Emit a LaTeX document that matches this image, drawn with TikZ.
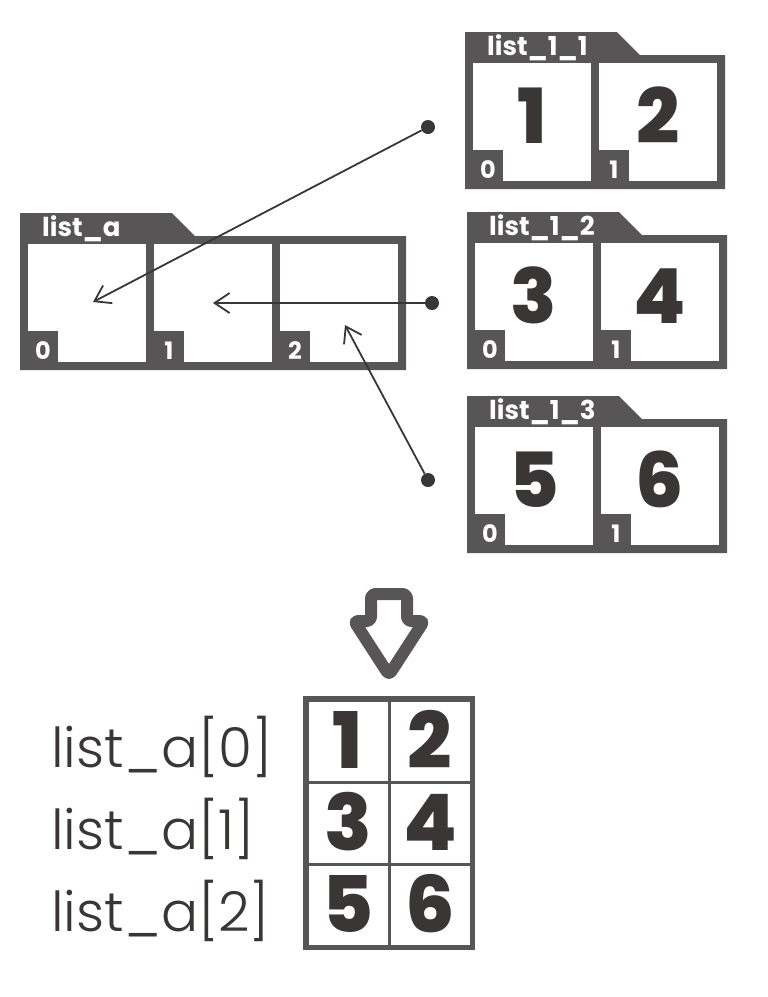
\documentclass[tikz,border=0pt]{standalone}
\usepackage{fontspec}
\setmainfont{Poppins}
\IfFontExistsTF{Poppins ExtraBold}{\newfontfamily\heavyfont{Poppins ExtraBold}}{\newcommand{\heavyfont}{\bfseries}}
\IfFontExistsTF{Poppins Light}{\newfontfamily\thinfont{Poppins Light}}{\newcommand{\thinfont}{\mdseries}}
\usetikzlibrary{positioning,arrows.meta}

\definecolor{framegray}{HTML}{575555}
\definecolor{inkgray}{HTML}{3A3636}

% name, x, y, number of cells, values, label
\newcommand{\drawlist}[6]{%
  \pgfmathsetmacro{\listw}{8+126*#4}
  \fill[framegray] (#2,#3) -- ++(152,0) -- ++(23,23) -- (#2+\listw,#3+23)
    -- (#2+\listw,#3+157) -- (#2,#3+157) -- cycle;
  \node[tablabel] (#1-name) at (#2+22,#3+23) {#6};
  \foreach \v [count=\i from 0] in {#5} {
    \node[cell] (#1-\i) at (#2+67+126*\i,#3+90) {\v};
    \node[idx] (#1-i\i) at (#1-\i.south west) {\i};
  }
}

\begin{document}
\begin{tikzpicture}[x=1pt,y=-1pt]
  \tikzstyle{cell}=[fill=white, inner sep=0pt, minimum width=118pt, minimum height=118pt,
    text=inkgray, font=\heavyfont\fontsize{76}{76}\selectfont, text height=54pt, text depth=12pt]
  \tikzstyle{idx}=[anchor=south west, fill=framegray, inner sep=0pt, minimum width=30pt,
    minimum height=31pt, text=white, font=\bfseries\fontsize{24}{24}\selectfont,
    text height=25pt, text depth=0pt]
  \tikzstyle{tablabel}=[anchor=base west, inner sep=0pt, text=white,
    font=\bfseries\fontsize{26}{26}\selectfont]
  \tikzstyle{dot}=[circle, fill=inkgray, inner sep=0pt, minimum size=14pt]
  \tikzstyle{ptr}=[draw=inkgray, line width=1.8pt, -{Straight Barb[length=15pt,width=20pt]}]
  \tikzstyle{tcell}=[draw=framegray, line width=3pt, inner sep=0pt, minimum width=82pt,
    minimum height=82pt, text=inkgray, font=\heavyfont\fontsize{78}{78}\selectfont,
    text height=55pt, text depth=0pt]
  \tikzstyle{rowlab}=[anchor=base west, inner sep=0pt, text=inkgray,
    font=\thinfont\fontsize{55}{55}\selectfont]

  \useasboundingbox (0,0) rectangle (768,997);

  \drawlist{a}{20}{213}{3}{{},{},{}}{list\_a}
  \drawlist{b}{465}{32}{2}{1,2}{list\_1\_1}
  \drawlist{c}{467}{212}{2}{3,4}{list\_1\_2}
  \drawlist{e}{467}{396}{2}{5,6}{list\_1\_3}

  \node[dot] (d0) at (428,127) {};
  \node[dot] (d1) at (432,303) {};
  \node[dot] (d2) at (428,480) {};
  \coordinate (p0) at (93,302);
  \coordinate (p2) at (345,325);

  \draw[ptr] (d0) -- (p0);
  \draw[ptr] (d1) -- (a-1.center);
  \draw[ptr] (d2) -- (p2);

  % big down arrow
  \draw[framegray, line width=12pt, line join=round, rounded corners=4pt]
    (371,594) -- (407,594) -- (407,621) -- (424,621) -- (389,675)
    -- (354,621) -- (371,621) -- cycle;

  \foreach \r in {0,1,2} {
    \foreach \c in {0,1} {
      \pgfmathtruncatemacro{\v}{2*\r+\c+1}
      \node[tcell] (t\r\c) at (348+82*\c,741+82*\r) {\v};
    }
    \node[rowlab] (l\r) at (51,767+82*\r) {list\_a[\r]};
  }
  \draw[framegray, line width=5pt] (t00.north west) rectangle (t21.south east);

\end{tikzpicture}
\end{document}
